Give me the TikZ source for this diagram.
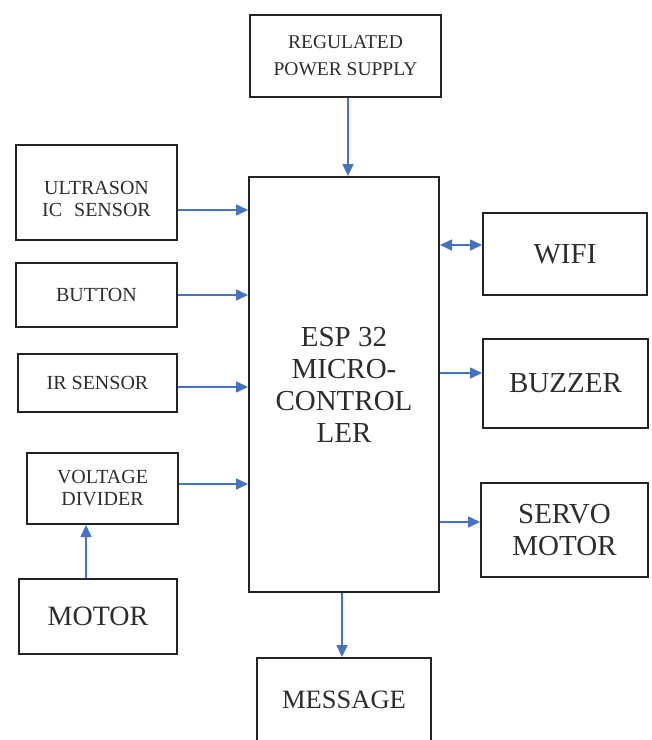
\documentclass[tikz,border=0pt]{standalone}
\usepackage{fontspec}
\setmainfont{Liberation Serif}
\usetikzlibrary{arrows.meta}
\definecolor{arrowblue}{RGB}{68,114,196}
\definecolor{boxline}{RGB}{35,35,35}
\definecolor{txt}{RGB}{45,45,45}
\tikzset{
  blk/.style={draw=boxline, line width=2pt, rectangle, inner sep=0pt, align=center, text=txt},
  sm/.style={font=\fontsize{20}{22}\selectfont},
  lg/.style={font=\fontsize{29}{32}\selectfont},
  conn/.style={draw=arrowblue, line width=1.6pt, -{Triangle[length=12pt,width=11pt]}},
  bconn/.style={draw=arrowblue, line width=1.6pt, {Triangle[length=12pt,width=11pt]}-{Triangle[length=12pt,width=11pt]}}
}
\begin{document}
\begin{tikzpicture}[x=1pt,y=-1pt]
\useasboundingbox (0,0) rectangle (652,740);
\node[blk, minimum width=191pt, minimum height=82pt, font=\fontsize{19.5}{27}\selectfont] (rps) at (345.5,56) {REGULATED\\POWER SUPPLY};
\node[blk, lg, minimum width=190pt, minimum height=415pt] (esp) at (344,384.5) {ESP 32\\MICRO-\\CONTROL\\LER};
\node[blk, sm, minimum width=161pt, minimum height=95pt] (us) at (96.5,192.5) {\rule{0pt}{26pt}ULTRASON\\IC\hspace{0.6em}SENSOR};
\node[blk, sm, minimum width=161pt, minimum height=64pt] (btn) at (96.5,295) {BUTTON};
\node[blk, sm, minimum width=159pt, minimum height=58pt] (ir) at (97.5,383) {IR SENSOR};
\node[blk, sm, minimum width=151pt, minimum height=71pt] (vd) at (102.5,488.5) {VOLTAGE\\DIVIDER};
\node[blk, font=\fontsize{28}{31}\selectfont, minimum width=158pt, minimum height=75pt] (mot) at (98,616.5) {MOTOR};
\node[blk, lg, minimum width=164pt, minimum height=82pt] (wifi) at (565,254) {WIFI};
\node[blk, lg, minimum width=165pt, minimum height=89pt] (buz) at (565.5,383.5) {BUZZER};
\node[blk, lg, minimum width=167pt, minimum height=94pt] (servo) at (564.5,530) {SERVO\\MOTOR};
\node[blk, font=\fontsize{26.5}{30}\selectfont, minimum width=174pt, minimum height=83pt] (msg) at (344,699.5) {MESSAGE};
% connectors
\draw[conn] ([xshift=2.5pt]rps.south) -- ([xshift=2.5pt]rps.south |- esp.north);
\draw[conn] ([yshift=-17.5pt]us.east) -- ([yshift=-17.5pt]us.east -| esp.west);
\draw[conn] (btn.east) -- (btn.east -| esp.west);
\draw[conn] ([yshift=-4pt]ir.east) -- ([yshift=-4pt]ir.east -| esp.west);
\draw[conn] ([yshift=4.5pt]vd.east) -- ([yshift=4.5pt]vd.east -| esp.west);
\draw[conn] ([xshift=-12pt]mot.north) -- ([xshift=-12pt]mot.north |- vd.south);
\draw[bconn] ([yshift=9pt]wifi.west -| esp.east) -- ([yshift=9pt]wifi.west);
\draw[conn] ([yshift=10.5pt]buz.west -| esp.east) -- ([yshift=10.5pt]buz.west);
\draw[conn] ([yshift=8pt]servo.west -| esp.east) -- ([yshift=8pt]servo.west);
\draw[conn] ([xshift=-2pt]esp.south) -- ([xshift=-2pt]esp.south |- msg.north);
\end{tikzpicture}
\end{document}
